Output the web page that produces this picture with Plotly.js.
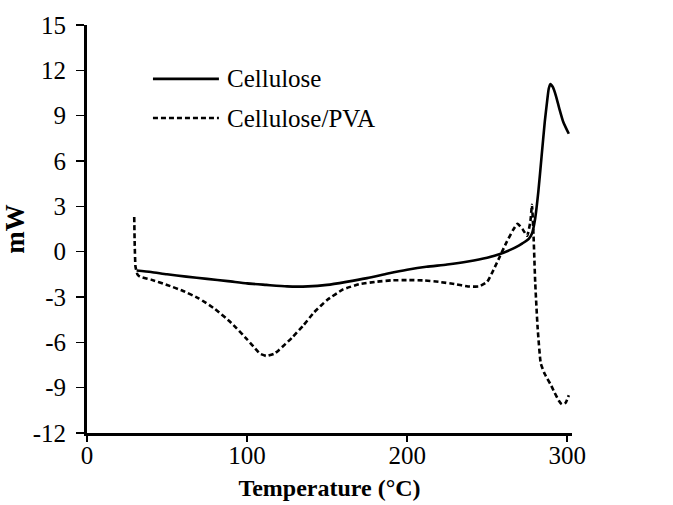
<!DOCTYPE html>
<html>
<head>
<meta charset="utf-8">
<script src="https://cdn.plot.ly/plotly-3.0.1.min.js"></script>
<style>html,body{margin:0;padding:0;background:#fff;}#chart{width:673px;height:505px;}</style>
</head>
<body>
<div id="chart"></div>
<script>
// Cellulose (solid)
const cellT  = [31, 40, 50, 62, 75, 88, 100, 112, 125, 138, 150, 162, 175, 188, 200, 212, 225, 238, 250, 258, 264, 268, 272, 276, 278, 280, 282, 284, 286, 287.5, 288.5, 289.5, 291, 293, 295, 297.5, 301];
const cellMW = [-1.25, -1.35, -1.5, -1.65, -1.8, -1.95, -2.1, -2.2, -2.3, -2.3, -2.2, -2.0, -1.75, -1.45, -1.2, -1.0, -0.85, -0.65, -0.4, -0.15, 0.1, 0.3, 0.55, 0.85, 1.2, 2.2, 4.0, 6.3, 8.6, 10.0, 10.8, 11.1, 10.9, 10.3, 9.5, 8.6, 7.8];

// Cellulose/PVA (dashed)
const pvaT  = [29.5, 29.8, 30.3, 31.5, 33, 40, 50, 60, 70, 80, 90, 100, 105, 108, 112, 117, 120, 128, 135, 142, 150, 160, 170, 180, 190, 200, 210, 220, 230, 238, 245, 250, 254, 258, 262, 266, 269, 272, 275, 277, 278, 279, 280, 281.5, 283.5, 286, 289.7, 292, 294.7, 296.6, 299, 301];
const pvaMW = [2.3, 0.5, -1.0, -1.5, -1.65, -1.85, -2.2, -2.6, -3.1, -3.8, -4.7, -5.8, -6.4, -6.75, -6.9, -6.75, -6.5, -5.7, -4.9, -4.0, -3.2, -2.5, -2.15, -2.0, -1.9, -1.88, -1.9, -2.0, -2.15, -2.3, -2.3, -2.0, -1.2, -0.3, 0.6, 1.4, 1.85, 1.5, 1.05, 2.0, 3.1, 1.0, -2.0, -5.0, -7.4, -8.1, -8.8, -9.3, -9.85, -10.1, -10.0, -9.5];

const xTicks = [0, 100, 200, 300];
const yTicks = [-12, -9, -6, -3, 0, 3, 6, 9, 12, 15];
const names = ["Cellulose", "Cellulose/PVA"];

const font = "Liberation Serif, Times New Roman, serif";

const traces = [
  {x: cellT, y: cellMW, name: names[0], mode: "lines", type: "scatter",
   line: {color: "#000", width: 2.6, shape: "spline", smoothing: 0.6}, showlegend: false},
  {x: pvaT, y: pvaMW, name: names[1], mode: "lines", type: "scatter",
   line: {color: "#000", width: 2.6, dash: "5px,3px", shape: "spline", smoothing: 0.4}, showlegend: false}
];

const layout = {
  width: 673, height: 505,
  margin: {l: 87, r: 101, t: 25, b: 72},
  paper_bgcolor: "#fff", plot_bgcolor: "#fff",
  font: {family: font, size: 25, color: "#000"},
  xaxis: {
    range: [0, 303], tickvals: xTicks, ticktext: xTicks.map(String),
    showline: true, linewidth: 3, linecolor: "#000", mirror: false,
    ticks: "outside", ticklen: 6, tickwidth: 1.5, tickcolor: "#000",
    ticklabelstandoff: -8,
    showgrid: false, zeroline: false,
    tickfont: {family: font, size: 25, color: "#000"},
    title: {text: "<b>Temperature (°C)</b>", font: {family: font, size: 24, color: "#000"}, standoff: 12}
  },
  yaxis: {
    range: [-12, 15], tickvals: yTicks, ticktext: yTicks.map(String),
    showline: true, linewidth: 3, linecolor: "#000",
    ticks: "outside", ticklen: 8, tickwidth: 1.5, tickcolor: "#000",
    ticklabelstandoff: 5,
    showgrid: false, zeroline: false,
    tickfont: {family: font, size: 25, color: "#000"},
    title: {text: "<b>mW</b>", font: {family: font, size: 27, color: "#000"}, standoff: 2}
  },
  shapes: [
    {type: "line", xref: "paper", yref: "paper", x0: 0.136, x1: 0.272, y0: 0.868, y1: 0.868,
     line: {color: "#000", width: 2.6}},
    {type: "line", xref: "paper", yref: "paper", x0: 0.136, x1: 0.272, y0: 0.772, y1: 0.772,
     line: {color: "#000", width: 2.6, dash: "5px,3px"}}
  ],
  annotations: [
    {xref: "paper", yref: "paper", x: 0.285, y: 0.868, xanchor: "left", yanchor: "middle",
     text: names[0], showarrow: false, font: {family: font, size: 25, color: "#000"}},
    {xref: "paper", yref: "paper", x: 0.285, y: 0.772, xanchor: "left", yanchor: "middle",
     text: names[1], showarrow: false, font: {family: font, size: 25, color: "#000"}}
  ]
};

Plotly.newPlot("chart", traces, layout, {displayModeBar: false, staticPlot: true});
</script>
</body>
</html>
